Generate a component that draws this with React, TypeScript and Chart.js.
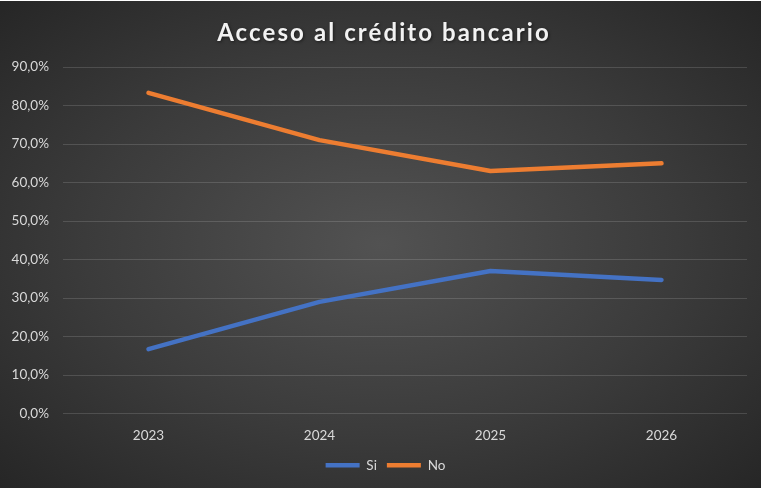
import React, { useEffect, useRef } from "react";
import { Chart, registerables } from "chart.js";

Chart.register(...registerables);

const categories = ["2023", "2024", "2025", "2026"];
const siValues = [16.7, 29.0, 37.0, 34.7];
const noValues = [83.3, 71.0, 63.0, 65.0];
const titleText = "Acceso al crédito bancario";

const titlePlugin = {
  id: "customTitle",
  afterLayout(chart: any) {
    if (chart.legend) {
      chart.legend.left += 12;
      chart.legend.right += 12;
    }
  },
  afterDraw(chart: any) {
    const ctx = chart.ctx;
    ctx.save();
    ctx.font = "bold 24px Lato";
    (ctx as any).letterSpacing = "2.1px";
    ctx.fillStyle = "#f2f2f2";
    ctx.textAlign = "center";
    ctx.textBaseline = "middle";
    ctx.shadowColor = "rgba(0,0,0,0.5)";
    ctx.shadowBlur = 3;
    ctx.shadowOffsetX = 1;
    ctx.shadowOffsetY = 1;
    ctx.fillText(titleText, 384, 32);
    ctx.restore();
  },
};

export default function App() {
  const ref = useRef<HTMLCanvasElement | null>(null);
  useEffect(() => {
    if (!ref.current) return;
    const chart = new Chart(ref.current, {
      type: "line",
      data: {
        labels: categories,
        datasets: [
          {
            label: "Si",
            data: siValues,
            borderColor: "#4472C4",
            backgroundColor: "#4472C4",
            borderWidth: 4.5,
            borderCapStyle: "round",
            borderJoinStyle: "round",
            pointRadius: 0,
            tension: 0,
          },
          {
            label: "No",
            data: noValues,
            borderColor: "#ED7D31",
            backgroundColor: "#ED7D31",
            borderWidth: 4.5,
            borderCapStyle: "round",
            borderJoinStyle: "round",
            pointRadius: 0,
            tension: 0,
          },
        ],
      },
      options: {
        animation: false,
        responsive: false,
        devicePixelRatio: 1,
        layout: { padding: { left: 0, right: 14, top: 66, bottom: 6 } },
        plugins: {
          title: { display: false },
          tooltip: { enabled: false },
          legend: {
            position: "bottom",
            labels: {
              usePointStyle: true,
              pointStyle: "line",
              pointStyleWidth: 34,
              color: "#d9d9d9",
              font: { family: "Lato", size: 13.5 },
              padding: 10,
            },
          },
        },
        scales: {
          x: {
            offset: true,
            grid: { display: false, drawTicks: false },
            border: { display: false },
            ticks: { color: "#d9d9d9", font: { family: "Lato", size: 13.5 }, padding: 14 },
            afterFit: (s: any) => {
              s.height = 35;
            },
          },
          y: {
            min: 0,
            max: 90,
            grid: { color: "rgba(255,255,255,0.14)", lineWidth: 1, drawTicks: false },
            border: { display: false },
            ticks: {
              stepSize: 10,
              color: "#d9d9d9",
              font: { family: "Lato", size: 13.5 },
              padding: 14,
              callback: (v: any) => Number(v).toFixed(1).replace(".", ",") + "%",
            },
            afterFit: (s: any) => {
              s.width = 63;
            },
          },
        },
      },
      plugins: [titlePlugin],
    });
    return () => chart.destroy();
  }, []);
  return (
    <div style={{ position: "fixed", left: 0, top: 0, width: 767, height: 491, background: "#ffffff" }}>
      <div
        style={{
          position: "absolute",
          left: 0,
          top: 1,
          width: 761,
          height: 487,
          background: "radial-gradient(ellipse at center, #525252 0%, #3b3b3b 55%, #262626 100%)",
        }}
      >
        <canvas ref={ref} width={761} height={487} style={{ display: "block" }} />
      </div>
    </div>
  );
}
